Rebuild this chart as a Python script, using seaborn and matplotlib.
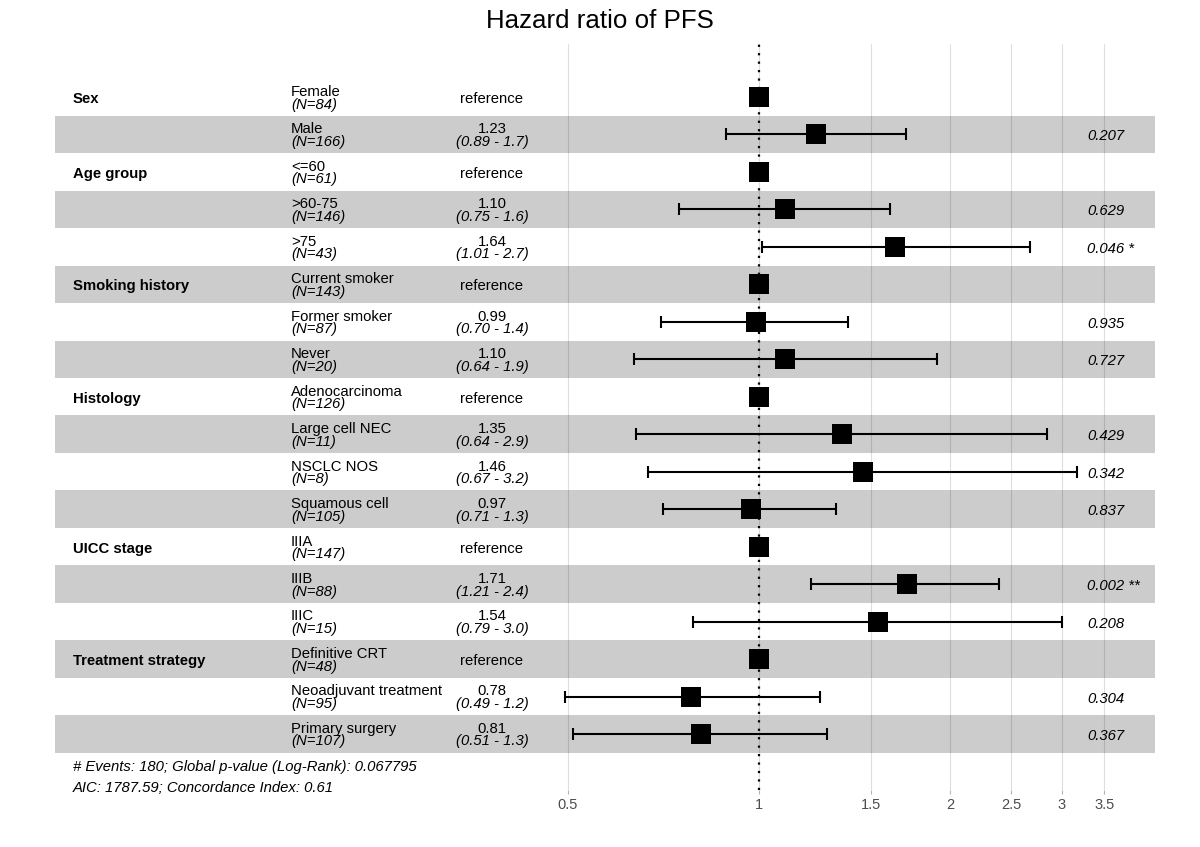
import numpy as np
import pandas as pd
import matplotlib
matplotlib.use("Agg")
import matplotlib.pyplot as plt
import seaborn as sns
from matplotlib.transforms import blended_transform_factory

# ---------------- data ----------------
variables = ["Sex", "", "Age group", "", "", "Smoking history", "", "",
             "Histology", "", "", "", "UICC stage", "", "", "Treatment strategy", "", ""]
levels = ["Female", "Male", "<=60", ">60-75", ">75", "Current smoker", "Former smoker",
          "Never", "Adenocarcinoma", "Large cell NEC", "NSCLC NOS", "Squamous cell",
          "IIIA", "IIIB", "IIIC", "Definitive CRT", "Neoadjuvant treatment", "Primary surgery"]
n_obs = [84, 166, 61, 146, 43, 143, 87, 20, 126, 11, 8, 105, 147, 88, 15, 48, 95, 107]
hazard_ratio = [1.0, 1.23, 1.0, 1.10, 1.64, 1.0, 0.99, 1.10, 1.0, 1.35, 1.46, 0.97,
                1.0, 1.71, 1.54, 1.0, 0.78, 0.81]
ci_low = [np.nan, 0.887, np.nan, 0.748, 1.01, np.nan, 0.70, 0.635, np.nan, 0.640, 0.668, 0.706,
          np.nan, 1.207, 0.787, np.nan, 0.495, 0.509]
ci_high = [np.nan, 1.705, np.nan, 1.609, 2.674, np.nan, 1.381, 1.906, np.nan, 2.844, 3.17, 1.322,
           np.nan, 2.39, 3.00, np.nan, 1.248, 1.28]
hr_labels = ["reference", "1.23", "reference", "1.10", "1.64", "reference", "0.99", "1.10",
             "reference", "1.35", "1.46", "0.97", "reference", "1.71", "1.54", "reference",
             "0.78", "0.81"]
ci_labels = ["", "(0.89 - 1.7)", "", "(0.75 - 1.6)", "(1.01 - 2.7)", "", "(0.70 - 1.4)",
             "(0.64 - 1.9)", "", "(0.64 - 2.9)", "(0.67 - 3.2)", "(0.71 - 1.3)", "",
             "(1.21 - 2.4)", "(0.79 - 3.0)", "", "(0.49 - 1.2)", "(0.51 - 1.3)"]
p_labels = ["", "0.207", "", "0.629", "0.046 *", "", "0.935", "0.727", "", "0.429", "0.342",
            "0.837", "", "0.002 **", "0.208", "", "0.304", "0.367"]
x_ticks = [0.5, 1, 1.5, 2, 2.5, 3, 3.5]
footnote = ["# Events: 180; Global p-value (Log-Rank): 0.067795",
            "AIC: 1787.59; Concordance Index: 0.61"]
title = "Hazard ratio of PFS"

df = pd.DataFrame({"row": np.arange(1, len(levels) + 1), "hr": hazard_ratio,
                   "lo": ci_low, "hi": ci_high})

# ---------------- style ----------------
sns.set_theme(style="white")
plt.rcParams["font.family"] = ["Liberation Sans", "DejaVu Sans"]

W, H = 1200, 847
fig = plt.figure(figsize=(W / 100, H / 100), dpi=100)

# panel geometry (pixels)
pl, pr, pt, pb = 33, 1177, 44, 790
ax = fig.add_axes([pl / W, 1 - pb / H, (pr - pl) / W, (pb - pt) / H])
ax.set_xscale("log")
px_per_dec = 634.5
x1_px = 759
ax.set_xlim(10 ** ((pl - x1_px) / px_per_dec), 10 ** ((pr - x1_px) / px_per_dec))
row0_px, row_h = 97, 37.47
ax.set_ylim(1 + (pb - row0_px) / row_h, 1 + (pt - row0_px) / row_h)

for s in ax.spines.values():
    s.set_visible(False)

# gridlines
ax.set_xticks(x_ticks)
ax.set_xticklabels(["%g" % t for t in x_ticks])
ax.xaxis.set_minor_locator(matplotlib.ticker.NullLocator())
ax.set_yticks([])
ax.grid(True, axis="x", color="#DEDEDE", linewidth=0.8)
ax.set_axisbelow(True)
ax.tick_params(axis="x", which="major", length=3, width=0.8, color="#B3B3B3",
               labelcolor="#4D4D4D", labelsize=10.5, pad=2.5, bottom=True)

# alternating bands
bx0 = (55 - pl) / (pr - pl)
bx1 = (1155 - pl) / (pr - pl)
for r in df["row"]:
    if r % 2 == 0:
        ax.axhspan(r - 0.5, r + 0.5, xmin=bx0, xmax=bx1, color="black", alpha=0.2,
                   linewidth=0, zorder=1)

# error bars
ax.errorbar(df["hr"], df["row"],
            xerr=[df["hr"] - df["lo"], df["hi"] - df["hr"]],
            fmt="none", ecolor="black", elinewidth=1.5, capsize=4.5, capthick=1.5, zorder=3)

# squares
sns.scatterplot(data=df, x="hr", y="row", marker="s", s=210, color="black",
                linewidth=0, ax=ax, zorder=4, legend=False)
ax.set_xlabel("")
ax.set_ylabel("")

# reference line
ax.axvline(1, color="black", linestyle=(0, (1, 2.8)), linewidth=1.6, zorder=5)

# ---------------- table text ----------------
tr = blended_transform_factory(fig.transFigure, ax.transData)
fs = 10.7
off = 6.3 / row_h
d1 = 2.0 / row_h   # baseline correction for single-line text
d2 = 1.2 / row_h   # for two-line text
for i, r in enumerate(df["row"]):
    if variables[i]:
        ax.text(73 / W, r + d1, variables[i], transform=tr, ha="left", va="center",
                fontsize=fs, fontweight="bold", color="black", zorder=6)
    ax.text(291 / W, r - off + d2, levels[i], transform=tr, ha="left", va="center",
            fontsize=fs, color="black", zorder=6)
    ax.text(291 / W, r + off + d2, "(N=%d)" % n_obs[i], transform=tr, ha="left", va="center",
            fontsize=fs, style="italic", color="black", zorder=6)
    if hr_labels[i] == "reference":
        ax.text(492 / W, r + d1, "reference", transform=tr, ha="center", va="center",
                fontsize=fs, color="black", zorder=6)
    else:
        ax.text(492 / W, r - off + d2, hr_labels[i], transform=tr, ha="center", va="center",
                fontsize=fs, color="black", zorder=6)
        ax.text(492 / W, r + off + d2, ci_labels[i], transform=tr, ha="center", va="center",
                fontsize=fs, style="italic", color="black", zorder=6)
    if p_labels[i]:
        ax.text(1087 / W, r + d1, p_labels[i], transform=tr, ha="left", va="center",
                fontsize=fs, style="italic", color="black", zorder=6)

# footnote
fig.text(73 / W, 1 - 766.5 / H, footnote[0], ha="left", va="center", fontsize=fs,
         style="italic", color="black")
fig.text(73 / W, 1 - 787.5 / H, footnote[1], ha="left", va="center", fontsize=fs,
         style="italic", color="black")

# title
fig.text(0.5, 1 - 21.5 / H, title, ha="center", va="center", fontsize=18.6, color="black")

fig.savefig("out.png", dpi=100, facecolor="white")
